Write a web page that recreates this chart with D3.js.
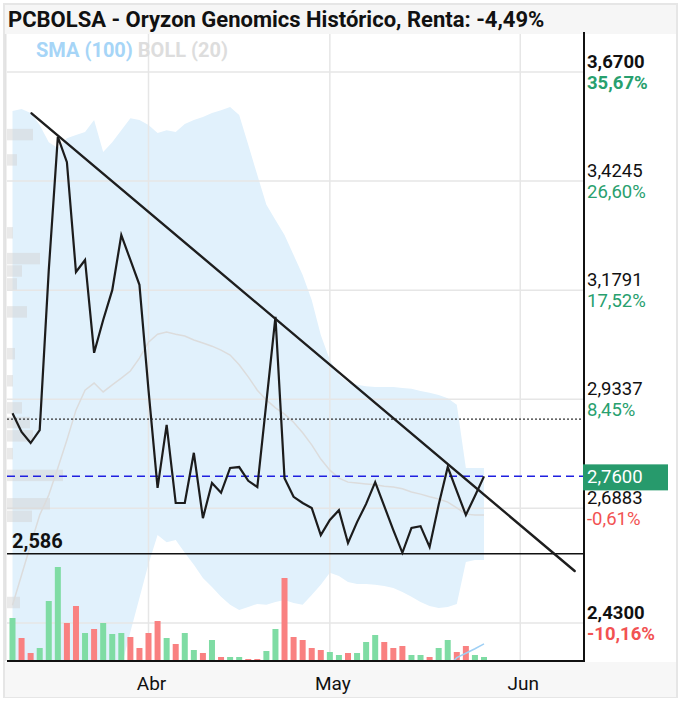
<!DOCTYPE html>
<html><head><meta charset="utf-8">
<script src="https://cdn.jsdelivr.net/npm/d3@7"></script>
<style>
body{margin:0;background:#fff}
text{font-family:Roboto,"Noto Sans",sans-serif}
</style>
</head><body>
<svg id="c" width="681" height="701"></svg>
<script>
// ---------------- DATA ----------------
const title = "PCBOLSA - Oryzon Genomics Histórico, Renta: -4,49%";
const legendSMA = "SMA (100)";
const legendBOLL = "BOLL (20)";

// daily closes (53 sessions)
const closes = [2.902,2.860,2.835,2.864,3.224,3.524,3.467,3.220,3.247,3.038,
  3.112,3.179,3.303,3.247,3.191,2.954,2.734,2.876,2.700,2.700,
  2.813,2.666,2.745,2.723,2.779,2.781,2.750,2.736,2.927,3.119,
  2.756,2.714,2.700,2.689,2.628,2.662,2.684,2.610,2.657,2.698,
  2.747,2.693,2.639,2.588,2.644,2.648,2.601,2.696,2.781,2.727,
  2.673,2.716,2.760];

// volume (thousands) and direction (u = up day, d = down day)
const volumes = [43,23,8,13,60,94,38,55,28,32,
  38,27,28,24,13,28,40,23,17,28,
  11,8,21,4,4,4,2,2,10,32,
  83,24,21,13,11,9,6,8,8,19,
  26,19,13,15,6,6,4,13,21,9,
  15,6,4];
const volDir = ["u","d","d","u","u","u","d","d","u","d",
  "u","u","u","d","d","d","d","u","d","u",
  "u","d","u","d","u","u","d","d","u","u",
  "d","d","d","d","d","u","u","d","u","u",
  "u","d","d","d","u","u","d","u","u","d",
  "d","u","u"];

// Bollinger (20)
const bollUpper = [3.582,3.587,3.578,3.551,3.512,3.499,3.521,3.528,3.535,3.562,
  3.490,3.512,3.539,3.566,3.562,3.551,3.533,3.539,3.535,3.553,
  3.562,3.569,3.578,3.584,3.591,3.573,3.506,3.438,3.371,3.337,
  3.303,3.258,3.213,3.157,3.078,3.022,2.988,2.972,2.966,2.963,
  2.961,2.961,2.961,2.959,2.957,2.952,2.948,2.943,2.936,2.921,
  2.779,2.779,2.779];
const bollMid = [2.470,2.538,2.606,2.673,2.718,2.779,2.842,2.909,2.954,2.970,
  2.950,2.966,2.981,2.997,3.026,3.062,3.080,3.085,3.080,3.076,
  3.067,3.060,3.053,3.044,3.033,3.011,2.984,2.954,2.932,2.914,
  2.900,2.882,2.858,2.831,2.799,2.774,2.756,2.747,2.745,2.743,
  2.741,2.738,2.736,2.732,2.725,2.720,2.714,2.709,2.702,2.689,
  2.675,2.673,2.673];
const bollLower = [2.122,2.144,2.167,2.178,2.189,2.200,2.212,2.230,2.245,2.261,
  2.279,2.302,2.331,2.410,2.486,2.563,2.628,2.612,2.617,2.588,
  2.561,2.531,2.511,2.489,2.471,2.459,2.466,2.473,2.471,2.477,
  2.482,2.475,2.471,2.493,2.516,2.543,2.536,2.522,2.518,2.518,
  2.516,2.513,2.509,2.500,2.489,2.477,2.468,2.464,2.466,2.473,
  2.567,2.572,2.572];
// SMA (100), only available for the last sessions
const sma100Start = 48;
const sma100 = [2.330,2.352,2.362,2.372,2.383];

// volume profile (price of bin top, volume)
const profBinSize = 0.028;
const profPrice = [3.542,3.485,3.321,3.263,3.235,3.206,3.143,3.049,2.988,2.927,
  2.894,2.864,2.824,2.775,2.711,2.683,2.489];
const profVol = [26,10,6,33,15,10,20,8,6,15,23,26,6,56,43,25,13];

// axes
const monthLabels = ["Abr","May","Jun"];
const monthIdx = [15,35,56];
const tickValues = [3.67,3.4245,3.1791,2.9337,2.6883,2.43];
const tickLabels = ["3,6700","3,4245","3,1791","2,9337","2,6883","2,4300"];
const tickPct = ["35,67%","26,60%","17,52%","8,45%","-0,61%","-10,16%"];
const tickBold = [true,false,false,false,false,true];

const lastPrice = 2.76, lastLabel = "2,7600";
const supportLevel = 2.586, supportLabel = "2,586";
const dottedLevel = 2.889;
const trendLine = [[2.1,3.577],[62.0,2.547]];

// ---------------- LAYOUT ----------------
const L = 7, R = 584, T = 34, B = 661;
const svg = d3.select("#c");
const x = d3.scaleLinear().domain([0, 52]).range([12.5, 484]);
const y = d3.scaleLinear().domain([2.43, 3.67]).range([623, 72]);
const yv = d3.scaleLinear().domain([0, 100]).range([B, B - 100]);
const xp = d3.scaleLinear().domain([0, 100]).range([L, L + 100]);

const green = "#28a06e", red = "#f25252";

// frame
svg.append("rect").attr("x",4).attr("y",4).attr("width",673).attr("height",693)
  .attr("fill","#fff").attr("stroke","#e6e6e6").attr("stroke-width",2);
svg.append("rect").attr("x",5).attr("y",5).attr("width",671).attr("height",29).attr("fill","#f6f6f6");
svg.append("rect").attr("x",5).attr("y",B+1).attr("width",671).attr("height",35).attr("fill","#f7f7f7");

const defs = svg.append("defs");
defs.append("clipPath").attr("id","plot").append("rect")
  .attr("x",L).attr("y",T).attr("width",R-L).attr("height",B-T);
const g = svg.append("g").attr("clip-path","url(#plot)");

// bollinger band fill
const idx = d3.range(closes.length);
g.append("path").datum(idx)
  .attr("fill","#e1f1fc")
  .attr("d", d3.area().x(i=>x(i)).y0(i=>y(bollLower[i])).y1(i=>y(bollUpper[i])));

// gridlines
g.selectAll(".hg").data(tickValues).join("line")
  .attr("x1",L).attr("x2",R).attr("y1",d=>y(d)).attr("y2",d=>y(d))
  .attr("stroke","#e6e6e6").attr("stroke-width",1.5);
g.selectAll(".vg").data(monthIdx).join("line")
  .attr("x1",d=>x(d)).attr("x2",d=>x(d)).attr("y1",T).attr("y2",B)
  .attr("stroke","#e6e6e6").attr("stroke-width",1.5);

// left border line
svg.append("line").attr("x1",5.5).attr("x2",5.5).attr("y1",T).attr("y2",B)
  .attr("stroke","#e2e2e2").attr("stroke-width",2);

// volume profile
g.selectAll(".prof").data(profPrice).join("rect")
  .attr("x",L).attr("y",d=>y(d))
  .attr("width",(d,i)=>xp(profVol[i])-L)
  .attr("height",d=>y(d-profBinSize)-y(d)-1)
  .attr("fill","#d4d4d4").attr("opacity",0.5);

// mid line (BOLL 20)
g.append("path").datum(idx).attr("fill","none").attr("stroke","#dcdcdc").attr("stroke-width",1.5)
  .attr("d", d3.line().x(i=>x(i)).y(i=>y(bollMid[i])));

// volume bars
g.selectAll(".vol").data(volumes).join("rect")
  .attr("x",(d,i)=>x(i)-3).attr("width",6)
  .attr("y",d=>yv(d)).attr("height",d=>B-yv(d))
  .attr("fill",(d,i)=>volDir[i]==="u" ? "#7fdca4" : "#f98181");

// sma 100
g.append("path").datum(sma100).attr("fill","none").attr("stroke","#9fd0f5").attr("stroke-width",1.5)
  .attr("d", d3.line().x((d,i)=>x(sma100Start+i)).y(d=>y(d)));

// horizontal reference lines
g.append("line").attr("x1",L).attr("x2",R).attr("y1",y(dottedLevel)).attr("y2",y(dottedLevel))
  .attr("stroke","#333").attr("stroke-width",1.2).attr("stroke-dasharray","2,2");
g.append("line").attr("x1",L).attr("x2",R).attr("y1",y(lastPrice)).attr("y2",y(lastPrice))
  .attr("stroke","#1f1fe0").attr("stroke-width",1.5).attr("stroke-dasharray","8,5");
g.append("line").attr("x1",L).attr("x2",R).attr("y1",y(supportLevel)).attr("y2",y(supportLevel))
  .attr("stroke","#111").attr("stroke-width",1.6);

// trend line
g.append("line")
  .attr("x1",x(trendLine[0][0])).attr("y1",y(trendLine[0][1]))
  .attr("x2",x(trendLine[1][0])).attr("y2",y(trendLine[1][1]))
  .attr("stroke","#1e1e1e").attr("stroke-width",2.4).attr("stroke-linecap","round");

// price line
g.append("path").datum(closes).attr("fill","none").attr("stroke","#1c1c1c").attr("stroke-width",2.2)
  .attr("stroke-linejoin","miter")
  .attr("d", d3.line().x((d,i)=>x(i)).y(d=>y(d)));

// support label
svg.append("text").attr("x",12).attr("y",y(supportLevel)-6).text(supportLabel)
  .attr("font-size",20).attr("font-weight","bold").attr("fill","#111");

// axes lines
svg.append("line").attr("x1",R).attr("x2",R).attr("y1",32).attr("y2",B+1)
  .attr("stroke","#111").attr("stroke-width",2);
svg.append("line").attr("x1",L).attr("x2",R+1).attr("y1",B).attr("y2",B)
  .attr("stroke","#111").attr("stroke-width",2);

// right tick labels
const tg = svg.append("g");
tickValues.forEach((v,i)=>{
  tg.append("text").attr("x",R+3).attr("y",y(v)-4).text(tickLabels[i])
    .attr("font-size",18.5).attr("font-weight",tickBold[i]?"bold":"normal").attr("fill","#111");
  tg.append("text").attr("x",R+3).attr("y",y(v)+17).text(tickPct[i])
    .attr("font-size",18.5).attr("font-weight",tickBold[i]?"bold":"normal")
    .attr("fill", tickPct[i].startsWith("-") ? red : green);
});

// last price tag
svg.append("rect").attr("x",R-1).attr("y",y(lastPrice)-12).attr("width",85).attr("height",26)
  .attr("fill","#279a6c");
svg.append("text").attr("x",R+3).attr("y",y(lastPrice)+7).text(lastLabel)
  .attr("font-size",18.5).attr("fill","#fff");

// month labels
svg.selectAll(".ml").data(monthLabels).join("text")
  .attr("x",(d,i)=>x(monthIdx[i])+3).attr("y",690).attr("text-anchor","middle")
  .attr("font-size",19).attr("fill","#111").text(d=>d);

// title & legend
svg.append("text").attr("x",8).attr("y",27).text(title)
  .attr("font-size",22).attr("font-weight","bold").attr("fill","#111");
const lg = svg.append("text").attr("x",36).attr("y",57).attr("font-size",20).attr("font-weight","bold");
lg.append("tspan").attr("fill","#a6d5f7").text(legendSMA + " ");
lg.append("tspan").attr("fill","#dddddd").text(legendBOLL);
</script>
</body></html>
